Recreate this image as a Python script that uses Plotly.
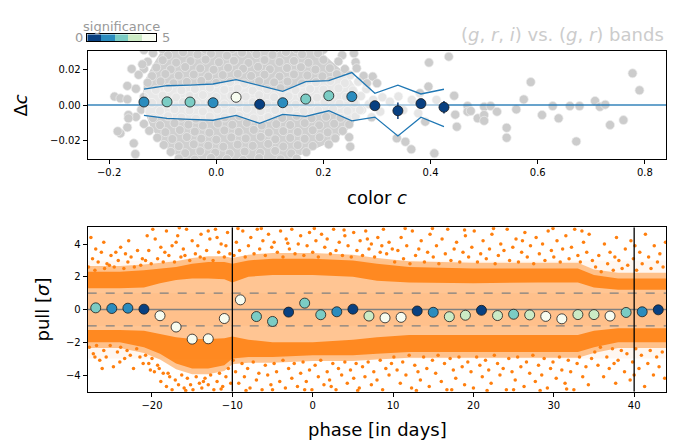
import plotly.graph_objects as go

W, H = 681, 441

# ---------------- top panel data ----------------
bin_c = [-0.135, -0.092, -0.049, -0.006, 0.037, 0.081, 0.124, 0.167, 0.210, 0.253, 0.296, 0.339, 0.382, 0.425]
bin_dc = [0.0017, 0.0018, 0.0017, 0.0013, 0.0044, 0.0004, 0.0013, 0.0034, 0.0053, 0.0048, -0.0004, -0.0033, 0.0008, -0.0013]
bin_dc_err = [0.0012, 0.0012, 0.0012, 0.0012, 0.0013, 0.0014, 0.0015, 0.0016, 0.0018, 0.0020, 0.0022, 0.0047, 0.0026, 0.0036]
bin_sig_top = [1.5, 2.5, 2.5, 1.5, 4.5, 0.5, 1.5, 2.5, 2.5, 1.5, 0.5, 0.5, 0.5, 0.5]
env_hi = [0.0091, 0.0110, 0.0114, 0.0120, 0.0145, 0.0113, 0.0078, 0.0133, 0.0139, 0.0185, 0.0067, 0.0113, 0.0063, 0.0090]
env_lo = [-0.0059, -0.0076, -0.0082, -0.0087, -0.0059, -0.0105, -0.0054, -0.0065, -0.0033, -0.0091, -0.0069, -0.0177, -0.0070, -0.0124]

# outline of the region where the grey points overlap completely
core_x = [-0.135, -0.12, -0.1, 0.19, 0.215, 0.245, 0.265, 0.27, 0.25, 0.215, 0.17, 0.13, -0.06, -0.095, -0.122, -0.138]
core_y = [0.013, 0.022, 0.032, 0.032, 0.025, 0.017, 0.008, -0.004, -0.013, -0.021, -0.027, -0.032, -0.032, -0.024, -0.013, 0.0]

gray_x = [
    -0.1, -0.06, -0.02, 0.03, 0.07, 0.11, 0.15, 0.2,
    -0.118, -0.09, -0.062, -0.035, -0.01, 0.02, 0.048, 0.075, 0.105, 0.13, 0.16, 0.19, 0.235,
    -0.128, -0.1, -0.075, -0.048, -0.02, 0.005, 0.033, 0.06, 0.09, 0.118, 0.145, 0.172, 0.2, 0.228, 0.26,
    -0.135, -0.112, -0.085, -0.058, -0.03, -0.005, 0.022, 0.05, 0.078, 0.1, 0.132, 0.158, 0.185, 0.212, 0.24,
    -0.145, -0.12, -0.095, -0.07, -0.042, -0.015, 0.012, 0.04, 0.065, 0.09, 0.118, 0.145, 0.17, 0.198, 0.225, 0.25, 0.275,
    -0.128, -0.104, -0.08, -0.055, -0.028, 0.0, 0.026, 0.052, 0.08, 0.108, 0.133, 0.16, 0.186, 0.213, 0.24, 0.265,
    -0.15, -0.113, -0.09, -0.065, -0.04, -0.012, 0.015, 0.04, 0.068, 0.095, 0.12, 0.148, 0.175, 0.2, 0.228, 0.255, 0.28,
    -0.135, -0.1, -0.075, -0.05, -0.025, 0.0, 0.028, 0.055, 0.08, 0.108, 0.135, 0.16, 0.188, 0.215, 0.242, 0.27, 0.31, 0.34,
    -0.12, -0.088, -0.062, -0.038, -0.012, 0.015, 0.042, 0.068, 0.095, 0.122, 0.148, 0.175, 0.202, 0.23, 0.258, 0.285,
    -0.14, -0.105, -0.078, -0.05, -0.025, 0.002, 0.03, 0.057, 0.083, 0.11, 0.136, 0.163, 0.19, 0.218, 0.245, 0.272,
    -0.15, -0.118, -0.09, -0.065, -0.038, -0.012, 0.016, 0.043, 0.07, 0.097, 0.123, 0.15, 0.178, 0.205, 0.232, 0.26, 0.29,
    -0.135, -0.105, -0.078, -0.052, -0.025, 0.003, 0.03, 0.057, 0.085, 0.112, 0.138, 0.165, 0.192, 0.22, 0.248,
    -0.125, -0.095, -0.068, -0.04, -0.013, 0.015, 0.042, 0.07, 0.098, 0.125, 0.152, 0.18, 0.208, 0.236,
    -0.11, -0.082, -0.055, -0.028, 0.0, 0.028, 0.055, 0.083, 0.11, 0.138, 0.165, 0.193, 0.222,
    -0.098, -0.07, -0.042, -0.015, 0.013, 0.04, 0.068, 0.097, 0.125, 0.152, 0.18, 0.21,
    -0.085, -0.058, -0.03, -0.002, 0.025, 0.053, 0.082, 0.11, 0.14, 0.168,
    -0.07, -0.04, -0.01, 0.02, 0.05, 0.08, 0.12, 0.15,
    -0.135, -0.138, -0.158, -0.166, -0.190, -0.179, -0.166, -0.164, -0.179, -0.184, -0.166, -0.154, -0.151, -0.164,
    0.257, 0.262, 0.292, 0.397, 0.396, 0.390, 0.407, 0.364, 0.353, 0.337, 0.248, 0.250, 0.293, 0.324, 0.365,
    0.377, 0.349, 0.306, 0.268, 0.281, 0.300, 0.380, 0.411,
    0.434, 0.444, 0.446, 0.449, 0.469, 0.469, 0.475, 0.488, 0.500, 0.500, 0.500, 0.512, 0.524, 0.542, 0.542,
    0.560, 0.574, 0.587, 0.608, 0.628, 0.639, 0.660, 0.672, 0.678, 0.707, 0.716, 0.726, 0.735, 0.760, 0.777, 0.790,
]
gray_y = [
    0.0318, 0.0322, 0.0316, 0.0320, 0.0317, 0.0321, 0.0318, 0.0316,
    0.0296, 0.0284, 0.0301, 0.0288, 0.0293, 0.0282, 0.0299, 0.0290, 0.0286, 0.0303, 0.0289, 0.0295, 0.0284,
    0.0247, 0.0256, 0.0242, 0.0251, 0.0259, 0.0244, 0.0253, 0.0240, 0.0257, 0.0246, 0.0252, 0.0241, 0.0258, 0.0249, 0.0244,
    0.0206, 0.0214, 0.0203, 0.0217, 0.0209, 0.0201, 0.0213, 0.0207, 0.0218, 0.0204, 0.0211, 0.0216, 0.0202, 0.0210, 0.0205,
    0.0172, 0.0165, 0.0177, 0.0168, 0.0174, 0.0163, 0.0171, 0.0178, 0.0166, 0.0173, 0.0162, 0.0175, 0.0169, 0.0164, 0.0176, 0.0170, 0.0166,
    0.0127, 0.0135, 0.0124, 0.0132, 0.0138, 0.0126, 0.0131, 0.0122, 0.0136, 0.0129, 0.0134, 0.0123, 0.0130, 0.0137, 0.0125, 0.0133,
    0.0093, 0.0086, 0.0097, 0.0084, 0.0091, 0.0098, 0.0087, 0.0094, 0.0082, 0.0090, 0.0096, 0.0085, 0.0092, 0.0088, 0.0095, 0.0083, 0.0091,
    0.0046, 0.0054, 0.0043, 0.0051, 0.0057, 0.0045, 0.0052, 0.0048, 0.0056, 0.0044, 0.0050, 0.0055, 0.0042, 0.0053, 0.0047, 0.0051, 0.0044, 0.0049,
    0.0012, 0.0005, 0.0017, 0.0008, 0.0014, 0.0003, 0.0010, 0.0016, 0.0006, 0.0013, 0.0002, 0.0011, 0.0015, 0.0007, 0.0012, 0.0004,
    -0.0027, -0.0034, -0.0024, -0.0031, -0.0037, -0.0026, -0.0033, -0.0022, -0.0035, -0.0029, -0.0025, -0.0036, -0.0030, -0.0023, -0.0034, -0.0028,
    -0.0068, -0.0075, -0.0064, -0.0072, -0.0078, -0.0066, -0.0071, -0.0063, -0.0077, -0.0069, -0.0074, -0.0062, -0.0076, -0.0067, -0.0073, -0.0065, -0.0070,
    -0.0108, -0.0115, -0.0104, -0.0112, -0.0118, -0.0106, -0.0113, -0.0102, -0.0117, -0.0109, -0.0114, -0.0103, -0.0116, -0.0107, -0.0111,
    -0.0147, -0.0155, -0.0143, -0.0152, -0.0158, -0.0145, -0.0153, -0.0142, -0.0157, -0.0149, -0.0154, -0.0144, -0.0156, -0.0148,
    -0.0187, -0.0194, -0.0183, -0.0192, -0.0198, -0.0185, -0.0191, -0.0182, -0.0196, -0.0188, -0.0193, -0.0184, -0.0190,
    -0.0228, -0.0235, -0.0224, -0.0232, -0.0238, -0.0226, -0.0233, -0.0222, -0.0237, -0.0229, -0.0234, -0.0225,
    -0.0268, -0.0275, -0.0264, -0.0272, -0.0278, -0.0266, -0.0273, -0.0262, -0.0277, -0.0269,
    -0.0305, -0.0312, -0.0302, -0.0309, -0.0314, -0.0303, -0.0310, -0.0306,
    0.0314, 0.0232, 0.0206, 0.0109, 0.0048, 0.0038, 0.0033, -0.0057, -0.0162, -0.0150, -0.0128, -0.0219, -0.0280, -0.0076,
    0.0295, 0.0210, 0.0162, 0.0242, 0.0105, -0.0095, -0.0276, -0.0253, -0.0210, -0.0190, -0.0184, -0.0238, 0.0029, 0.0019, 0.0029,
    -0.0047, -0.0029, -0.0038, -0.0029, 0.0124, 0.0124, 0.0067, 0.0029,
    0.0276, 0.0053, -0.0055, -0.0124, -0.0006, -0.0038, -0.0034, -0.0076, -0.0010, -0.0057, -0.0090, -0.0006, -0.0038, -0.0130, -0.0187,
    -0.0025, 0.0032, 0.0131, -0.0057, -0.0006, -0.0076, -0.0006, -0.0208, -0.0006, 0.0023, -0.0010, 0.0002, -0.0114, -0.0086, 0.0181, 0.0084,
]

# ---------------- bottom panel data ----------------
bin_phase = [-27, -25, -23, -21, -19, -17, -15, -13, -11, -9, -7, -5, -3, -1, 1, 3, 5, 7,
             9, 11, 13, 15, 17, 19, 21, 23, 25, 27, 29, 31, 33, 35, 37, 39, 41, 43]
bin_pull = [0.10, 0.06, 0.08, 0.02, -0.38, -1.07, -1.81, -1.79, -0.55, 0.59, -0.43, -0.73, -0.16, 0.39, -0.32, -0.14, 0.02, -0.40,
            -0.51, -0.48, -0.09, -0.17, -0.44, -0.35, -0.05, -0.37, -0.29, -0.33, -0.42, -0.57, -0.31, -0.31, -0.40, -0.18, -0.14, -0.02]
bin_sig_bot = [2.5, 1.5, 1.5, 0.5, 4.5, 4.5, 4.5, 4.5, 4.5, 4.5, 2.5, 2.5, 0.5, 2.5, 2.5, 1.5, 0.5, 3.5,
               4.5, 4.5, 0.5, 1.5, 3.5, 3.5, 0.5, 3.5, 2.5, 3.5, 4.5, 4.5, 3.5, 3.5, 4.5, 2.5, 1.5, 0.5]

env_phase = [-28, -24, -21, -19, -17, -15, -13, -11, -10, -8, -5, 0, 5, 8, 12, 20, 28, 33, 35, 38, 44]
env_up_in = [1.3, 1.3, 1.35, 1.6, 1.8, 1.9, 1.9, 1.85, 1.65, 2.0, 2.1, 2.1, 2.0, 1.75, 1.65, 1.6, 1.65, 1.65, 1.35, 1.2, 1.2]
env_lo_in = [-1.25, -1.25, -1.3, -1.5, -1.7, -1.8, -1.8, -1.75, -1.65, -1.85, -2.0, -2.0, -1.85, -1.7, -1.55, -1.55, -1.55, -1.55, -1.3, -1.15, -1.15]
dense_up = [2.3, 2.3, 2.4, 2.5, 2.6, 2.8, 2.9, 2.9, 2.8, 3.0, 3.1, 3.1, 3.0, 2.8, 2.6, 2.5, 2.5, 2.5, 2.1, 1.9, 1.9]
dense_lo = [-2.0, -2.0, -2.3, -2.7, -3.3, -3.6, -3.6, -3.4, -3.0, -2.9, -2.9, -2.8, -2.8, -2.7, -2.6, -2.6, -2.6, -2.6, -2.3, -2.0, -2.0]

orange_pts = [
    # phase -28..-21, upper / lower
    (-27.9, 2.6), (-27.4, 3.1), (-27.1, 2.4), (-26.7, 2.9), (-26.3, 3.5), (-25.9, 2.5), (-25.6, 2.8), (-25.1, 3.3),
    (-24.7, 2.6), (-24.2, 3.0), (-23.9, 3.8), (-23.5, 2.5), (-23.0, 2.9), (-22.6, 3.2), (-22.2, 2.6), (-21.8, 3.6),
    (-21.4, 2.7), (-27.6, 4.4), (-26.0, 4.1), (-24.5, 3.5), (-22.9, 4.2), (-21.2, 3.1), (-27.0, 3.7), (-25.3, 2.7),
    (-23.3, 3.4),
    (-27.8, -2.3), (-27.3, -2.7), (-26.9, -2.2), (-26.5, -3.1), (-26.0, -2.5), (-25.7, -2.9), (-25.2, -2.2),
    (-24.8, -3.5), (-24.3, -2.6), (-23.9, -2.3), (-23.4, -3.0), (-23.1, -2.5), (-22.7, -2.8), (-22.3, -3.6),
    (-21.9, -2.4), (-21.5, -2.9), (-21.1, -3.3), (-26.2, -3.6), (-24.0, -3.2), (-27.1, -2.9),
    # phase -21..-10
    (-20.8, 3.0), (-20.4, 3.6), (-20.1, 2.8), (-19.6, 4.3), (-19.3, 3.1), (-18.9, 3.8), (-18.6, 2.9), (-18.2, 4.8),
    (-17.9, 3.3), (-17.5, 3.9), (-17.2, 2.9), (-16.8, 4.5), (-16.4, 3.2), (-16.1, 3.7), (-15.7, 4.9), (-15.3, 3.0),
    (-15.0, 4.2), (-14.6, 3.4), (-14.3, 3.9), (-13.9, 4.6), (-13.5, 3.1), (-13.2, 3.6), (-12.8, 4.3), (-12.4, 3.0),
    (-12.1, 4.9), (-11.7, 3.5), (-11.4, 4.0), (-11.0, 3.2), (-10.6, 4.7), (-10.3, 3.4), (-19.9, 4.9), (-17.0, 4.1),
    (-14.0, 3.2), (-11.9, 4.4), (-15.9, 3.3), (-18.4, 3.5), (-13.0, 4.8), (-16.6, 5.0), (-10.8, 3.9), (-20.6, 4.5),
    (-20.8, -2.8), (-20.4, -3.3), (-20.0, -3.0), (-19.7, -3.8), (-19.3, -3.4), (-18.9, -4.4), (-18.6, -3.9),
    (-18.2, -4.7), (-17.8, -4.1), (-17.5, -4.9), (-17.1, -4.3), (-16.7, -4.6), (-16.3, -4.0), (-16.0, -4.8),
    (-15.6, -4.2), (-15.2, -4.6), (-14.9, -4.9), (-14.5, -4.1), (-14.1, -4.5), (-13.8, -4.8), (-13.4, -4.2),
    (-13.0, -4.6), (-12.7, -4.0), (-12.3, -4.9), (-11.9, -4.4), (-11.6, -3.9), (-11.2, -4.7), (-10.8, -4.1),
    (-10.5, -3.6), (-10.2, -4.5), (-20.2, -3.7), (-18.0, -3.9), (-15.8, -4.95), (-13.6, -4.4), (-11.4, -4.85),
    (-19.1, -3.6),
    # phase -10..10
    (-9.8, 3.3), (-9.5, 4.1), (-9.1, 3.6), (-8.7, 4.8), (-8.4, 3.2), (-8.0, 3.9), (-7.7, 4.4), (-7.3, 3.4),
    (-6.9, 4.9), (-6.6, 3.7), (-6.2, 4.2), (-5.9, 3.3), (-5.5, 4.6), (-5.1, 3.8), (-4.8, 4.1), (-4.4, 3.5),
    (-4.0, 4.8), (-3.7, 3.2), (-3.3, 4.3), (-2.9, 3.7), (-2.6, 4.9), (-2.2, 3.4), (-1.8, 4.0), (-1.5, 4.5),
    (-1.1, 3.3), (-0.7, 3.9), (-0.4, 4.7), (0.0, 3.5), (0.4, 4.2), (0.7, 3.2), (1.1, 4.6), (1.5, 3.8),
    (1.8, 4.3), (2.2, 3.4), (2.6, 4.9), (2.9, 3.6), (3.3, 4.1), (3.7, 3.3), (4.0, 4.5), (4.4, 3.9),
    (4.8, 3.2), (5.1, 4.7), (5.5, 3.6), (5.9, 4.2), (6.2, 3.3), (6.6, 4.8), (7.0, 3.7), (7.3, 4.0),
    (7.7, 3.2), (8.1, 4.4), (8.4, 3.5), (8.8, 4.9), (9.2, 3.4), (9.5, 4.1), (9.9, 3.7), (-9.3, 4.95),
    (-6.4, 4.95), (-3.1, 4.05), (0.2, 4.95), (3.9, 4.85), (6.8, 4.3), (8.6, 3.9),
    (-9.9, -3.1), (-9.6, -3.8), (-9.2, -4.5), (-8.8, -3.3), (-8.5, -4.1), (-8.1, -3.6), (-7.8, -4.8), (-7.4, -3.2),
    (-7.0, -4.3), (-6.7, -3.9), (-6.3, -4.9), (-5.9, -3.4), (-5.6, -4.0), (-5.2, -4.6), (-4.8, -3.3), (-4.5, -3.8),
    (-4.1, -4.4), (-3.7, -3.1), (-3.4, -4.8), (-3.0, -3.6), (-2.6, -4.2), (-2.3, -3.3), (-1.9, -4.7), (-1.5, -3.9),
    (-1.2, -3.2), (-0.8, -4.4), (-0.4, -3.7), (-0.1, -4.9), (0.3, -3.4), (0.7, -4.1), (1.0, -3.1), (1.4, -4.6),
    (1.8, -3.8), (2.1, -4.3), (2.5, -3.3), (2.9, -4.9), (3.2, -3.6), (3.6, -4.0), (4.0, -3.2), (4.3, -4.5),
    (4.7, -3.7), (5.1, -4.2), (5.4, -3.3), (5.8, -4.8), (6.2, -3.5), (6.5, -4.1), (6.9, -3.2), (7.3, -4.6),
    (7.6, -3.8), (8.0, -4.3), (8.4, -3.1), (8.7, -4.9), (9.1, -3.6), (9.5, -4.0), (9.8, -3.3), (-8.3, -4.95),
    (-5.0, -4.9), (-1.0, -4.9), (2.3, -4.7), (5.6, -4.95),
    # phase 10..35
    (10.2, 2.9), (10.6, 3.6), (11.0, 4.4), (11.3, 3.1), (11.7, 3.9), (12.1, 2.8), (12.4, 4.8), (12.8, 3.3),
    (13.2, 3.7), (13.5, 4.2), (13.9, 2.9), (14.3, 3.5), (14.6, 4.6), (15.0, 3.2), (15.4, 3.9), (15.7, 2.8),
    (16.1, 4.3), (16.5, 3.4), (16.8, 4.9), (17.2, 3.0), (17.6, 3.7), (17.9, 4.1), (18.3, 2.9), (18.7, 3.5),
    (19.0, 4.5), (19.4, 3.2), (19.8, 3.8), (20.1, 4.8), (20.5, 2.9), (20.9, 3.4), (21.2, 4.2), (21.6, 3.1),
    (22.0, 3.7), (22.3, 4.6), (22.7, 2.8), (23.1, 3.3), (23.4, 4.0), (23.8, 3.6), (24.2, 4.9), (24.5, 3.0),
    (24.9, 3.8), (25.3, 4.3), (25.6, 2.9), (26.0, 3.5), (26.4, 4.7), (26.7, 3.2), (27.1, 3.9), (27.5, 2.8),
    (27.8, 4.4), (28.2, 3.4), (28.6, 4.0), (28.9, 3.0), (29.3, 4.8), (29.7, 3.6), (30.0, 3.2), (30.4, 4.2),
    (30.8, 2.9), (31.1, 3.7), (31.5, 4.5), (31.9, 3.1), (32.2, 3.8), (32.6, 4.9), (33.0, 3.3), (33.3, 2.9),
    (33.7, 4.1), (34.1, 3.5), (34.4, 4.6), (34.8, 3.0), (11.5, 4.95), (14.9, 4.95), (18.9, 4.85), (22.5, 4.95),
    (26.1, 4.2), (29.9, 4.95), (33.5, 4.8),
    (10.1, -2.9), (10.5, -3.7), (10.9, -4.5), (11.2, -3.2), (11.6, -4.0), (12.0, -2.8), (12.3, -4.8), (12.7, -3.4),
    (13.1, -3.8), (13.4, -4.3), (13.8, -2.9), (14.2, -3.6), (14.5, -4.7), (14.9, -3.1), (15.3, -3.9), (15.6, -2.8),
    (16.0, -4.4), (16.4, -3.3), (16.7, -4.9), (17.1, -3.0), (17.5, -3.7), (17.8, -4.2), (18.2, -2.9), (18.6, -3.5),
    (18.9, -4.6), (19.3, -3.2), (19.7, -3.8), (20.0, -4.8), (20.4, -2.9), (20.8, -3.4), (21.1, -4.1), (21.5, -3.1),
    (21.9, -3.7), (22.2, -4.5), (22.6, -2.8), (23.0, -3.3), (23.3, -4.0), (23.7, -3.6), (24.1, -4.9), (24.4, -3.0),
    (24.8, -3.8), (25.2, -4.3), (25.5, -2.9), (25.9, -3.5), (26.3, -4.7), (26.6, -3.2), (27.0, -3.9), (27.4, -2.8),
    (27.7, -4.4), (28.1, -3.4), (28.5, -4.0), (28.8, -3.0), (29.2, -4.8), (29.6, -3.6), (29.9, -3.2), (30.3, -4.2),
    (30.7, -2.9), (31.0, -3.7), (31.4, -4.5), (31.8, -3.1), (32.1, -3.8), (32.5, -4.9), (32.9, -3.3), (33.2, -2.9),
    (33.6, -4.1), (34.0, -3.5), (34.3, -4.6), (34.7, -3.0), (12.9, -4.95), (17.3, -4.9), (21.7, -4.95),
    (25.0, -4.9), (28.3, -4.95), (31.6, -4.85),
    # phase 35..44
    (35.2, 2.6), (35.6, 3.3), (35.9, 2.3), (36.3, 4.0), (36.7, 2.8), (37.0, 3.5), (37.4, 2.4), (37.8, 4.4),
    (38.1, 3.0), (38.5, 2.5), (38.9, 3.7), (39.2, 2.7), (39.6, 4.2), (39.9, 3.1), (40.3, 2.4), (40.7, 3.5),
    (41.0, 2.8), (41.4, 4.6), (41.8, 3.2), (42.1, 2.5), (42.5, 3.9), (42.9, 2.9), (43.2, 3.4), (43.6, 2.6),
    (43.9, 4.1), (37.6, 3.2), (40.1, 3.9),
    (35.1, -2.6), (35.5, -3.4), (35.8, -2.3), (36.2, -4.1), (36.6, -2.9), (36.9, -3.6), (37.3, -2.4), (37.7, -4.5),
    (38.0, -3.1), (38.4, -2.5), (38.8, -3.8), (39.1, -2.7), (39.5, -4.3), (39.8, -3.2), (40.2, -2.4), (40.6, -3.6),
    (40.9, -2.8), (41.3, -4.7), (41.7, -3.3), (42.0, -2.5), (42.4, -4.0), (42.8, -2.9), (43.1, -3.5), (43.5, -2.6),
    (43.8, -4.2), (37.5, -3.3), (40.0, -4.0),
]
orange_phase = [p[0] for p in orange_pts]
orange_pull = [p[1] for p in orange_pts]

phase_marks = [-10, 40]
sigma_levels = [1, 3]

# ---------------- styling ----------------
FONT = "DejaVu Sans"
sig_colors = ["#084081", "#2b8cbe", "#7bccc4", "#ccebc5", "#f7fcf0"]
cscale = []
for i, c in enumerate(sig_colors):
    cscale.append([i / 5, c])
    cscale.append([(i + 1) / 5, c])

top_xr = [-0.24, 0.84]
top_yr = [-0.031, 0.031]
bot_xr = [-28.0, 44.0]
bot_yr = [-5.02, 5.02]

ORANGE = "#ff7f0e"
BLUE = "#1f77b4"

fig = go.Figure()

# ---- top panel traces
fig.add_trace(go.Scatter(x=core_x, y=core_y, mode="lines", fill="toself", fillcolor="#d0d0d0",
                         line=dict(width=0), xaxis="x", yaxis="y", hoverinfo="skip"))
fig.add_trace(go.Scatter(x=gray_x, y=gray_y, mode="markers", xaxis="x", yaxis="y",
                         marker=dict(size=9, color="#cccccc", line=dict(width=0.7, color="#ececec")),
                         hoverinfo="skip"))
fig.add_trace(go.Scatter(x=top_xr, y=[0, 0], mode="lines", xaxis="x", yaxis="y",
                         line=dict(color="rgba(31,119,180,0.9)", width=1.3), hoverinfo="skip"))
fig.add_trace(go.Scatter(x=bin_c + bin_c[::-1], y=env_hi + env_lo[::-1], mode="lines", fill="toself",
                         fillcolor="rgba(255,255,255,0.5)", line=dict(width=0), xaxis="x", yaxis="y",
                         hoverinfo="skip"))
fig.add_trace(go.Scatter(x=bin_c, y=env_hi, mode="lines", line=dict(color=BLUE, width=1.3),
                         xaxis="x", yaxis="y"))
fig.add_trace(go.Scatter(x=bin_c, y=env_lo, mode="lines", line=dict(color=BLUE, width=1.3),
                         xaxis="x", yaxis="y"))
fig.add_trace(go.Scatter(x=bin_c, y=bin_dc, mode="markers", xaxis="x", yaxis="y",
                         error_y=dict(type="data", array=bin_dc_err, color="#0b3a75", thickness=1.5, width=0),
                         marker=dict(size=10, color=bin_sig_top, colorscale=cscale, cmin=0, cmax=5,
                                     line=dict(width=0.8, color="#1a1a1a"))))

# ---- bottom panel traces
def band(xs, hi, lo):
    return list(xs) + list(xs[::-1]), list(hi) + list(lo[::-1])

x3 = [bot_xr[0], bot_xr[1]]
bx, by = band(x3, [sigma_levels[1]] * 2, [-sigma_levels[1]] * 2)
fig.add_trace(go.Scatter(x=bx, y=by, fill="toself", fillcolor="rgba(255,127,14,0.06)", mode="lines",
                         line=dict(width=0), xaxis="x2", yaxis="y2", hoverinfo="skip"))
fade_up = [v + 0.35 for v in dense_up]
fade_lo = [v - 0.35 for v in dense_lo]
bx, by = band(env_phase, fade_up, fade_lo)
fig.add_trace(go.Scatter(x=bx, y=by, fill="toself", fillcolor="rgba(255,127,14,0.45)", mode="lines",
                         line=dict(width=0), xaxis="x2", yaxis="y2", hoverinfo="skip"))
bx, by = band(env_phase, dense_up, dense_lo)
fig.add_trace(go.Scatter(x=bx, y=by, fill="toself", fillcolor="rgba(255,127,14,0.85)", mode="lines",
                         line=dict(width=0), xaxis="x2", yaxis="y2", hoverinfo="skip"))
fig.add_trace(go.Scatter(x=orange_phase, y=orange_pull, mode="markers", xaxis="x2", yaxis="y2",
                         marker=dict(size=3.5, color=ORANGE, line=dict(width=0)), hoverinfo="skip"))
bx, by = band(env_phase, env_up_in, env_lo_in)
fig.add_trace(go.Scatter(x=bx, y=by, fill="toself", fillcolor="#ffc593", mode="lines",
                         line=dict(width=0), xaxis="x2", yaxis="y2", hoverinfo="skip"))
bx, by = band(x3, [sigma_levels[0]] * 2, [-sigma_levels[0]] * 2)
fig.add_trace(go.Scatter(x=bx, y=by, fill="toself", fillcolor="rgba(255,127,14,0.06)", mode="lines",
                         line=dict(width=0), xaxis="x2", yaxis="y2", hoverinfo="skip"))
for s in (sigma_levels[0], -sigma_levels[0]):
    fig.add_trace(go.Scatter(x=x3, y=[s, s], mode="lines", xaxis="x2", yaxis="y2",
                             line=dict(color="#808080", width=1.3, dash="dash")))
fig.add_trace(go.Scatter(x=x3, y=[0, 0], mode="lines", xaxis="x2", yaxis="y2",
                         line=dict(color="#808080", width=1.3)))
for p in phase_marks:
    fig.add_trace(go.Scatter(x=[p, p], y=bot_yr, mode="lines", xaxis="x2", yaxis="y2",
                             line=dict(color="black", width=1.3)))
fig.add_trace(go.Scatter(x=bin_phase, y=bin_pull, mode="markers", xaxis="x2", yaxis="y2",
                         marker=dict(size=10, color=bin_sig_bot, colorscale=cscale, cmin=0, cmax=5,
                                     line=dict(width=0.8, color="#1a1a1a"))))

# ---- colour bar (significance)
fig.add_trace(go.Heatmap(z=[[0.5, 1.5, 2.5, 3.5, 4.5]], x=[0.5, 1.5, 2.5, 3.5, 4.5], y=[0],
                         zmin=0, zmax=5, colorscale=cscale, showscale=False, xaxis="x3", yaxis="y3",
                         hoverinfo="skip"))

def px2x(p):
    return p / W

def py2y(p):
    return 1 - p / H

axis_common = dict(showgrid=False, zeroline=False, showline=True, mirror=True, linecolor="black",
                   linewidth=1, ticks="outside", ticklen=4, tickwidth=1, tickcolor="black",
                   tickfont=dict(family=FONT, size=10, color="black"))

fig.update_layout(
    width=W, height=H, margin=dict(l=0, r=0, t=0, b=0),
    paper_bgcolor="white", plot_bgcolor="white", showlegend=False,
    font=dict(family=FONT),
    xaxis=dict(domain=[px2x(87.7), px2x(666.3)], range=top_xr, anchor="y",
               tickvals=[-0.2, 0.0, 0.2, 0.4, 0.6, 0.8],
               ticktext=["\u22120.2", "0.0", "0.2", "0.4", "0.6", "0.8"], **axis_common),
    yaxis=dict(domain=[py2y(159.3), py2y(50.7)], range=top_yr, anchor="x",
               tickvals=[-0.02, 0.0, 0.02], ticktext=["\u22120.02", "0.00", "0.02"], **axis_common),
    xaxis2=dict(domain=[px2x(87.7), px2x(666.3)], range=bot_xr, anchor="y2",
                tickvals=[-20, -10, 0, 10, 20, 30, 40],
                ticktext=["\u221220", "\u221210", "0", "10", "20", "30", "40"], **axis_common),
    yaxis2=dict(domain=[py2y(391.7), py2y(227.3)], range=bot_yr, anchor="x2",
                tickvals=[-4, -2, 0, 2, 4], ticktext=["\u22124", "\u22122", "0", "2", "4"], **axis_common),
    xaxis3=dict(domain=[px2x(87.3), px2x(155.7)], range=[0, 5], anchor="y3", showgrid=False,
                zeroline=False, showticklabels=False, ticks="", showline=True, mirror=True,
                linecolor="black", linewidth=1),
    yaxis3=dict(domain=[py2y(41.3), py2y(34.3)], range=[-0.5, 0.5], anchor="x3", showgrid=False,
                zeroline=False, showticklabels=False, ticks="", showline=True, mirror=True,
                linecolor="black", linewidth=1),
)

ann = []
lab = dict(family=FONT, size=18, color="black")
ann.append(dict(text="\u0394<i>c</i>", x=px2x(20), y=py2y(105.5), textangle=-90, font=lab))
ann.append(dict(text="color <i>c</i>", x=px2x(377), y=py2y(197), font=lab))
ann.append(dict(text="pull [<i>\u03c3</i>]", x=px2x(42), y=py2y(309.5), textangle=-90, font=lab))
ann.append(dict(text="phase [in days]", x=px2x(377), y=py2y(429), font=lab))
ann.append(dict(text="(<i>g</i>, <i>r</i>, <i>i</i>) vs. (<i>g</i>, <i>r</i>) bands", x=px2x(666),
                y=py2y(35), xanchor="right", font=dict(family=FONT, size=18, color="#cccccc")))
small = dict(family=FONT, size=13, color="#999999")
ann.append(dict(text="significance", x=px2x(121), y=py2y(27), font=small))
ann.append(dict(text="0", x=px2x(85), y=py2y(38), xanchor="right", font=small))
ann.append(dict(text="5", x=px2x(159.5), y=py2y(38), xanchor="left", font=small))
for a in ann:
    a.setdefault("xanchor", "center")
    a.update(xref="paper", yref="paper", showarrow=False, yanchor="middle")
fig.update_layout(annotations=ann)

fig.write_html("out.html", config={"displayModeBar": False},
               post_script="document.body.style.margin='0px';document.body.style.overflow='hidden';")
